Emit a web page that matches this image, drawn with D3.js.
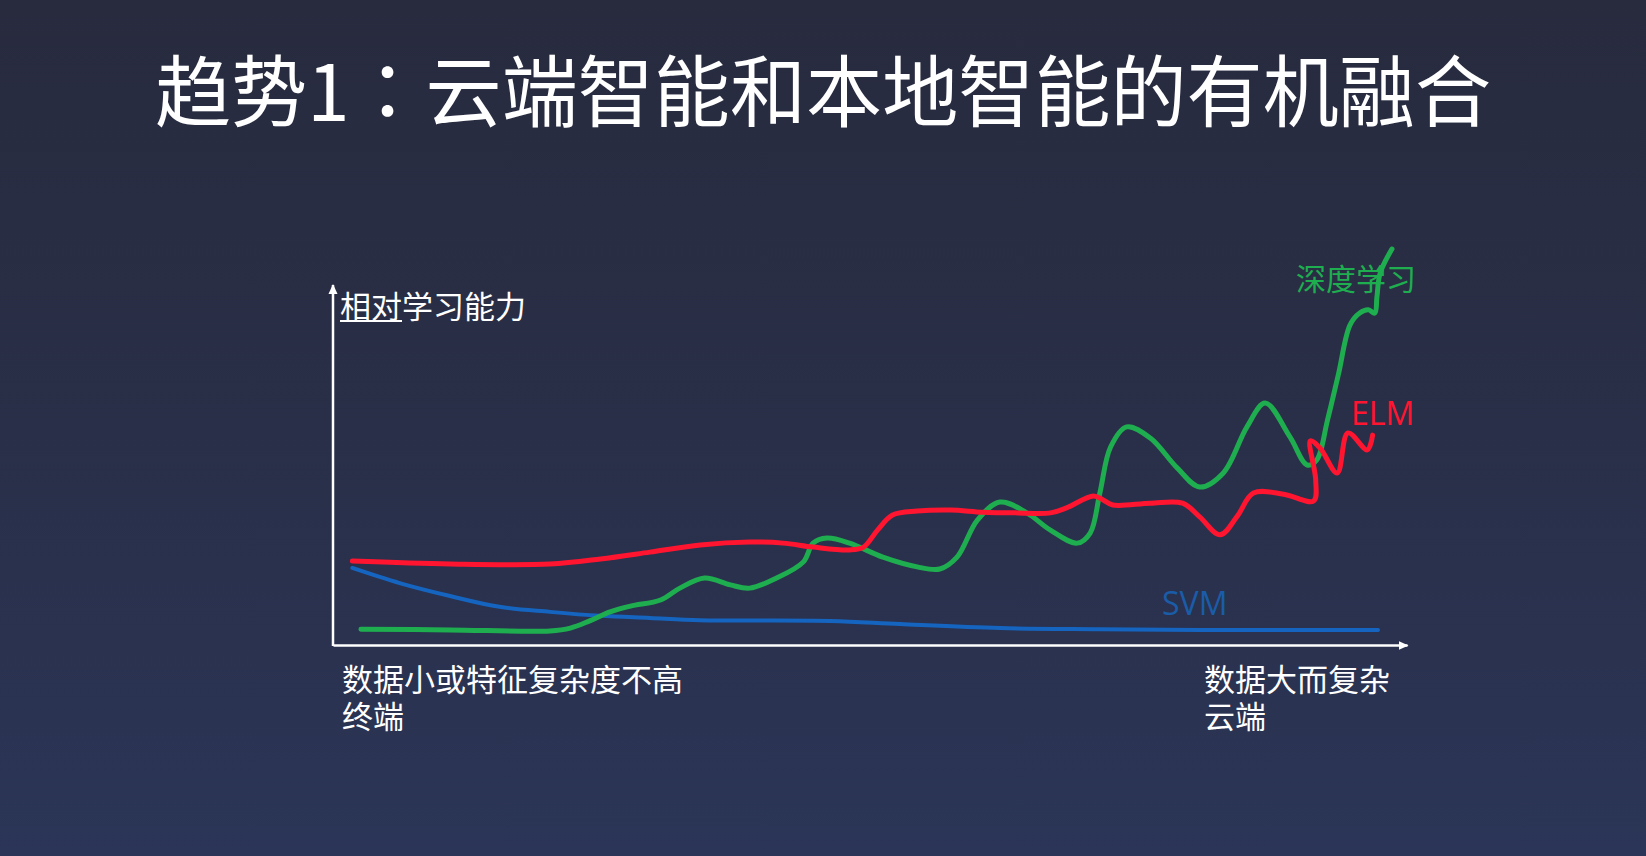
<!DOCTYPE html>
<html><head><meta charset="utf-8">
<script src="https://cdn.jsdelivr.net/npm/d3@7"></script>
<style>html,body{margin:0;padding:0;background:#282b3e;overflow:hidden}</style>
</head><body>
<svg id="c" width="1646" height="856"></svg>
<script>
// ---- data (relative units: x 0-100 along axis, y 0-100 up the axis) ----
const titleParts = ["趋势1", "：", "云端智能和本地智能的有机融合"];
const yAxisLabel = ["相对", "学习能力"];
const leftLabels = ["数据小或特征复杂度不高", "终端"];
const rightLabels = ["数据大而复杂", "云端"];
const seriesNames = ["SVM", "深度学习", "ELM"];

const svmX = [1.8, 6.2, 10.9, 15.5, 20.2, 24.9, 29.5, 34.2, 46.3, 52.8, 62.1, 71.4, 80.7, 97.3];
const svmY = [21.4, 17.2, 13.6, 10.6, 9.2, 8.1, 7.5, 6.9, 6.7, 5.8, 4.7, 4.4, 4.2, 4.2];

const dlX = [2.6, 10.9, 20.2, 22.1, 23.9, 25.8, 27.7, 30.5, 32.3, 34.6, 37.0, 38.8, 41.3, 43.8, 44.7, 46.0, 48.1, 51.2, 54.4, 56.5, 58.1, 60.0, 62.1, 64.6, 66.8, 69.3, 70.5, 71.4, 72.4, 73.9, 76.1, 78.6, 80.7, 82.9, 85.1, 86.8, 89.1, 90.7, 91.6, 92.6, 93.6, 94.7, 95.6, 96.4, 97.0, 97.2, 97.5, 98.6];
const dlY = [4.4, 4.2, 3.9, 4.7, 6.7, 9.2, 10.8, 12.5, 15.8, 18.6, 16.7, 15.8, 18.6, 23.1, 28.3, 29.7, 28.3, 24.4, 21.7, 21.1, 24.4, 34.7, 39.7, 36.7, 31.9, 28.3, 31.1, 42.2, 55.0, 60.6, 57.5, 49.2, 43.9, 47.8, 60.6, 67.2, 57.8, 50.0, 51.4, 62.5, 75.0, 88.9, 92.2, 93.1, 92.2, 96.7, 103.3, 110.0];

const elmX = [1.8, 10.9, 20.2, 24.9, 29.5, 34.2, 38.8, 41.9, 44.7, 48.1, 49.4, 50.7, 52.1, 54.4, 57.5, 60.5, 63.7, 66.8, 68.3, 70.8, 71.7, 72.6, 76.1, 79.1, 80.7, 82.6, 84.2, 85.7, 88.5, 91.3, 91.5, 91.0, 91.9, 93.5, 94.5, 96.3, 96.8];
const elmY = [23.3, 22.5, 22.5, 23.9, 25.8, 27.8, 28.6, 28.3, 27.2, 26.4, 27.2, 31.9, 36.1, 37.2, 37.5, 36.9, 36.7, 36.7, 38.1, 41.4, 40.3, 38.9, 39.4, 39.4, 35.6, 30.6, 35.8, 42.2, 41.9, 40.0, 45.8, 56.7, 54.7, 47.8, 58.9, 54.2, 58.3];

// ---- drawing ----
const svg = d3.select("#c");
const W = 1646, H = 856;
const defs = svg.append("defs");
const g = defs.append("linearGradient").attr("id","bg").attr("x1",0).attr("y1",0).attr("x2",0).attr("y2",1);
g.append("stop").attr("offset","0").attr("stop-color","#282b3e");
g.append("stop").attr("offset","0.5").attr("stop-color","#292f48");
g.append("stop").attr("offset","1").attr("stop-color","#2b3557");
svg.append("rect").attr("width",W).attr("height",H).attr("fill","url(#bg)");

defs.append("marker").attr("id","arr").attr("viewBox","0 0 10 10").attr("refX",9).attr("refY",5)
  .attr("markerWidth",10).attr("markerHeight",10).attr("markerUnits","userSpaceOnUse").attr("orient","auto")
  .append("path").attr("d","M0,0.5 L10,5 L0,9.5 Z").attr("fill","#ffffff");

const cjk = "'Noto Sans CJK SC','Noto Sans',sans-serif";
const lat = "'Open Sans','Noto Sans',sans-serif";

// title
const tt = svg.append("text").attr("x",155).attr("y",121).attr("textLength",1336).attr("lengthAdjust","spacingAndGlyphs")
  .attr("font-family",cjk).attr("font-size",78).attr("fill","#ffffff");
tt.append("tspan").text(titleParts[0]);
tt.append("tspan").attr("font-family","'Noto Sans CJK JP','Noto Sans CJK SC',sans-serif").text(titleParts[1]);
tt.append("tspan").text(titleParts[2]);

const x = d3.scaleLinear().domain([0,100]).range([333,1407]);
const y = d3.scaleLinear().domain([0,100]).range([645,285]);

// axes
const xAxis = svg.append("g").attr("transform",`translate(0,${y(0)})`)
  .call(d3.axisBottom(x).tickValues([]).tickSizeOuter(0));
xAxis.select(".domain").attr("stroke","#ffffff").attr("stroke-width",2.5).attr("marker-end","url(#arr)");
const yAxis = svg.append("g").attr("transform",`translate(${x(0)},0)`)
  .call(d3.axisLeft(y).tickValues([]).tickSizeOuter(0));
yAxis.select(".domain").attr("stroke","#ffffff").attr("stroke-width",2.5).attr("marker-end","url(#arr)")
  .attr("d",`M0,${y(0)+1}V${y(100)}`);

// series
const line = d3.line().x(d=>x(d[0])).y(d=>y(d[1])).curve(d3.curveCatmullRom.alpha(0.5));
const series = [
  {name:seriesNames[0], xs:svmX, ys:svmY, color:"#1565c0", w:4},
  {name:seriesNames[1], xs:dlX, ys:dlY, color:"#1fae4f", w:5},
  {name:seriesNames[2], xs:elmX, ys:elmY, color:"#ff1530", w:5}
];
series.forEach(s=>{
  svg.append("path").datum(s.xs.map((v,i)=>[v,s.ys[i]]))
    .attr("d",line).attr("fill","none").attr("stroke",s.color).attr("stroke-width",s.w)
    .attr("stroke-linecap","round").attr("stroke-linejoin","round");
});

// series labels
svg.append("text").attr("x",1162).attr("y",615).attr("font-family",lat).attr("font-size",32)
  .attr("fill","#1a5ca8").text(seriesNames[0]);
svg.append("text").attr("x",1296).attr("y",290).attr("font-family",cjk).attr("font-size",30)
  .attr("fill","#1fae4f").text(seriesNames[1]);
svg.append("text").attr("x",1351).attr("y",425).attr("font-family",lat).attr("font-size",32)
  .attr("fill","#ff1530").text(seriesNames[2]);

// y axis label
const yl = svg.append("text").attr("x",340).attr("y",318).attr("font-family",cjk).attr("font-size",31).attr("fill","#ffffff");
yl.append("tspan").text(yAxisLabel[0]);
yl.append("tspan").text(yAxisLabel[1]);
svg.append("line").attr("x1",340).attr("x2",402).attr("y1",321).attr("y2",321).attr("stroke","#ffffff").attr("stroke-width",2);

// bottom labels (two lines in one text block each)
function block(lines, x0){
  const t = svg.append("text").attr("x",x0).attr("y",691).attr("font-family",cjk)
    .attr("font-size",31).attr("fill","#ffffff");
  lines.forEach((s,i)=>t.append("tspan").attr("x",x0).attr("dy", i===0 ? 0 : 37).text(s));
}
block(leftLabels, 342);
block(rightLabels, 1204);
</script>
</body></html>
